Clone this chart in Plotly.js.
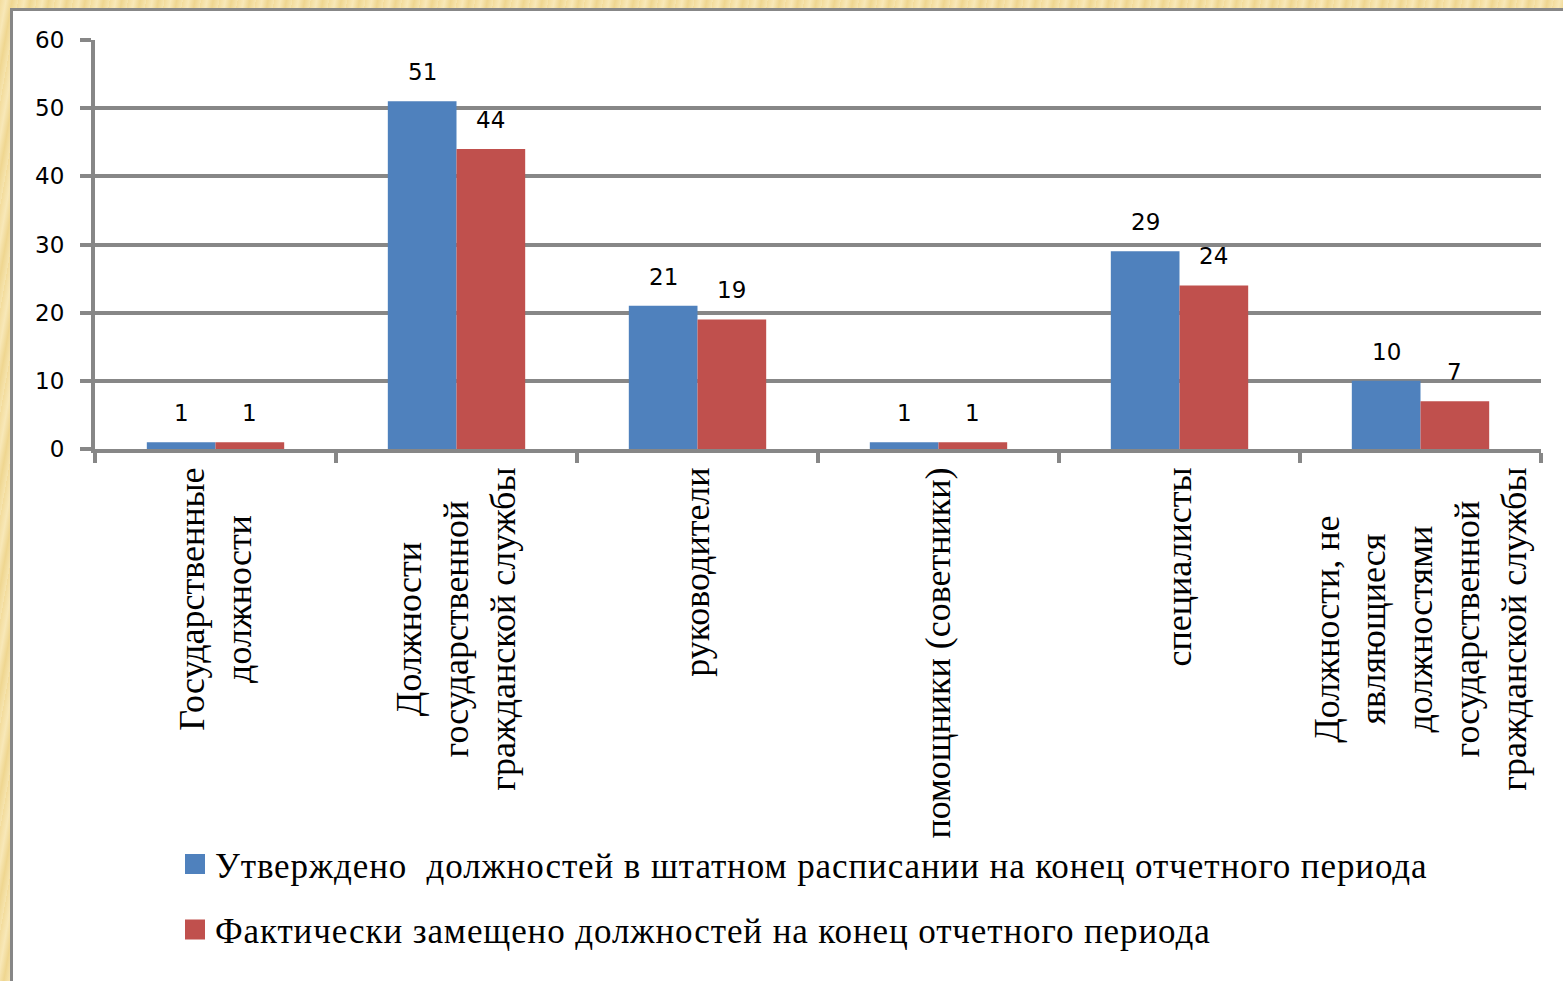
<!DOCTYPE html>
<html>
<head>
<meta charset="utf-8">
<script src="https://cdn.plot.ly/plotly-3.0.1.min.js"></script>
<style>
  html, body { margin: 0; padding: 0; width: 1563px; height: 981px; overflow: hidden; }
  body {
    background: repeating-linear-gradient(100deg, #f3dc9c 0px, #f8e8b8 6px, #efd690 12px, #f6e4ae 18px);
    position: relative;
  }
  #frame {
    position: absolute; left: 10px; top: 8px; width: 1553px; height: 973px;
    background: #ffffff; border-left: 3px solid #878787; border-top: 3px solid #878787;
    box-sizing: border-box;
  }
  #chart { position: absolute; left: 0; top: 0; width: 1563px; height: 981px; }
  .legendtext { letter-spacing: 0.9px; }
</style>
</head>
<body>
<div id="frame"></div>
<div id="chart"></div>
<script>
const categories = [
  "Государственные<br>должности",
  "Должности<br>государственной<br>гражданской службы",
  "руководители",
  "помощники (советники)",
  "специалисты",
  "Должности, не<br>являющиеся<br>должностями<br>государственной<br>гражданской службы"
];
const seriesNames = [
  "Утверждено  должностей в штатном расписании на конец отчетного периода",
  "Фактически замещено должностей на конец отчетного периода"
];
const approved = [1, 51, 21, 1, 29, 10];
const filled = [1, 44, 19, 1, 24, 7];
const yTicks = [0, 10, 20, 30, 40, 50, 60];

const W = 1563, H = 981;
const M = {l: 95, r: 22, t: 40, b: 532};
const bargap = 0.43;
const colors = ["#4F81BD", "#C0504D"];
const gridCol = "#878787";

const plotW = W - M.l - M.r;
const catW = plotW / categories.length;
const barW = catW * (1 - bargap) / 2;

const traces = [approved, filled].map((vals, i) => ({
  type: "bar",
  name: seriesNames[i],
  x: categories,
  y: vals,
  marker: {color: colors[i], line: {width: 0}},
  legendgroup: "g" + i,
  hoverinfo: "y"
}));

const annotations = [];
[approved, filled].forEach((vals, i) => {
  vals.forEach((v, j) => {
    annotations.push({
      x: categories[j], y: v, xref: "x", yref: "y",
      text: String(v), showarrow: false,
      xshift: (i === 0 ? -1 : 1) * barW / 2,
      yshift: 14, yanchor: "bottom",
      font: {family: "DejaVu Sans, Verdana, sans-serif", size: 23, color: "#000"}
    });
  });
});

const layout = {
  width: W, height: H,
  margin: M,
  paper_bgcolor: "rgba(0,0,0,0)",
  plot_bgcolor: "rgba(0,0,0,0)",
  barmode: "group",
  bargap: bargap,
  bargroupgap: 0,
  showlegend: true,
  legend: {
    orientation: "v",
    x: (175 - M.l) / plotW, xanchor: "left",
    y: -0.943, yanchor: "top",
    font: {family: "Liberation Serif, Times New Roman, serif", size: 35, color: "#000"},
    tracegroupgap: 17,
    bgcolor: "rgba(0,0,0,0)"
  },
  xaxis: {
    type: "category",
    tickangle: -90,
    ticks: "outside",
    tickson: "boundaries",
    ticklen: 10,
    tickwidth: 4,
    tickcolor: gridCol,
    showline: true,
    linecolor: gridCol,
    linewidth: 4,
    showgrid: false,
    tickfont: {family: "Liberation Serif, Times New Roman, serif", size: 36, color: "#000"},
    automargin: false
  },
  yaxis: {
    range: [0, 60],
    tickvals: yTicks,
    ticktext: yTicks.map(String),
    ticks: "outside",
    ticklen: 11,
    tickwidth: 4,
    tickcolor: gridCol,
    showline: true,
    linecolor: gridCol,
    linewidth: 4,
    showgrid: true,
    gridcolor: gridCol,
    gridwidth: 4,
    zeroline: false,
    ticklabelstandoff: 11,
    tickfont: {family: "DejaVu Sans, Verdana, sans-serif", size: 23, color: "#000"},
    automargin: false
  },
  annotations: annotations
};

function restyleDom() {
  // larger legend swatches
  document.querySelectorAll("#chart .legendpoints path").forEach(p => {
    p.setAttribute("d", "M10,10H-10V-10H10Z");
  });
  // center multi-line category labels relative to each other
  document.querySelectorAll("#chart .xtick text").forEach(t => {
    const lines = t.querySelectorAll("tspan.line");
    if (lines.length < 2) return;
    const x0 = parseFloat(t.getAttribute("x"));
    let maxW = 0;
    lines.forEach(l => { maxW = Math.max(maxW, l.getComputedTextLength()); });
    t.setAttribute("text-anchor", "middle");
    t.style.textAnchor = "middle";
    lines.forEach(l => l.setAttribute("x", x0 - maxW / 2));
  });
}

Plotly.newPlot("chart", traces, layout, {staticPlot: true}).then(restyleDom);
</script>
</body>
</html>
